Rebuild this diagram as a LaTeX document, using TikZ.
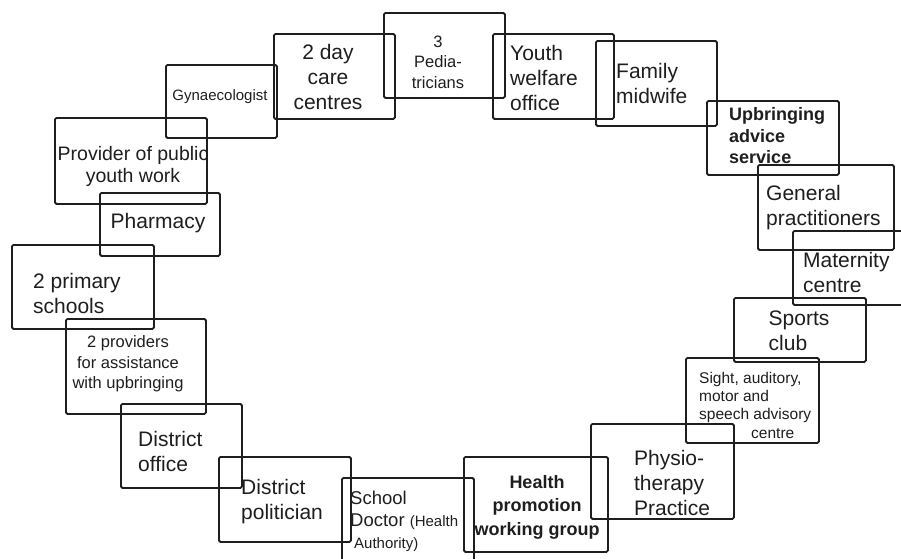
\documentclass[tikz,border=0pt]{standalone}
\usepackage{fontspec}
\setmainfont{Liberation Sans}
\definecolor{ink}{HTML}{1E1E1E}
\begin{document}
\begin{tikzpicture}[x=1pt,y=-1pt,
  box/.style={draw=ink, line width=1.8pt, rounded corners=1.5pt, inner sep=0pt, anchor=north west},
  lbl/.style={inner sep=0pt, text=ink, align=left},
  clbl/.style={inner sep=0pt, text=ink, align=center},
  big/.style={font=\fontsize{21}{25}\selectfont},
  midf/.style={font=\fontsize{19.5}{22}\selectfont},
  boldf/.style={font=\fontsize{18}{21.5}\selectfont\bfseries},
  boldg/.style={font=\fontsize{18}{23.5}\selectfont\bfseries},
  smallf/.style={font=\fontsize{16.5}{20.5}\selectfont},
  tinyf/.style={font=\fontsize{15.5}{18.3}\selectfont},
]
\useasboundingbox (0,0) rectangle (901,558);
\clip (0,0) rectangle (901,558);

% ring of partner boxes, clockwise from the gynaecologist
\node[box, minimum width=111pt, minimum height=73pt] (gyn) at (165,64) {};
\node[clbl, font=\fontsize{15}{18}\selectfont] (gynt) at (220,97) {Gynaecologist};

\node[box, minimum width=121pt, minimum height=85pt] (day) at (273,33) {};
\node[clbl, big] (dayt) at (328,77) {2 day\\care\\centres};

\node[box, minimum width=121pt, minimum height=85pt] (ped) at (383,12) {};
\node[clbl, smallf] (pedt) at (438,62) {3\\Pedia-\\tricians};

\node[box, minimum width=121pt, minimum height=85pt] (youth) at (492,33) {};
\node[lbl, big, anchor=west] (youtht) at (510,78) {Youth\\welfare\\office};

\node[box, minimum width=121pt, minimum height=85pt] (mid) at (595,40) {};
\node[lbl, big, anchor=west] (midt) at (616,83) {Family\\midwife};

\node[box, minimum width=132pt, minimum height=74pt] (upb) at (706,100) {};
\node[lbl, boldf, anchor=west] (upbt) at (729,136) {Upbringing\\advice\\service};

\node[box, minimum width=136pt, minimum height=85pt] (gp) at (757,164) {};
\node[lbl, big, anchor=west] (gpt) at (766,208) {General\\practitioners};

\node[box, minimum width=120pt, minimum height=74pt] (mat) at (792,230) {};
\node[lbl, big, anchor=west] (matt) at (803,272) {Maternity\\centre};

\node[box, minimum width=132pt, minimum height=64pt] (sport) at (733,297) {};
\node[lbl, big] (sportt) at (799,331) {Sports\\club};

\node[box, minimum width=133pt, minimum height=85pt] (sight) at (685,357) {};
\node[lbl, tinyf, anchor=west] (sightt) at (699,405) {Sight, auditory,\\motor and\\speech advisory\\\hspace*{52pt}centre};

\node[box, minimum width=143pt, minimum height=95pt] (physio) at (590,423) {};
\node[lbl, big] (physiot) at (672,483) {Physio-\\therapy\\Practice};

\node[box, minimum width=144pt, minimum height=95pt] (health) at (463,456) {};
\node[clbl, boldg] (healtht) at (537,507) {Health\\promotion\\working group};

\node[box, minimum width=132pt, minimum height=95pt] (school) at (341,477) {};
\node[lbl, font=\fontsize{18.5}{22}\selectfont, anchor=west] (schoolt) at (350,521)
  {School\\Doctor {\fontsize{15}{18}\selectfont(Health}\\\hspace*{4pt}{\fontsize{15}{18}\selectfont Authority)}};

\node[box, minimum width=132pt, minimum height=85pt] (pol) at (218,456) {};
\node[lbl, big, anchor=west] (polt) at (241,502) {District\\politician};

\node[box, minimum width=121pt, minimum height=84pt] (off) at (120,403) {};
\node[lbl, big, anchor=west] (offt) at (138,451) {District\\office};

\node[box, minimum width=140pt, minimum height=95pt] (prov) at (65,318) {};
\node[clbl, smallf] (provt) at (128,364) {2 providers\\for assistance\\with upbringing};

\node[box, minimum width=142pt, minimum height=84pt] (prim) at (11,244) {};
\node[lbl, big, anchor=west] (primt) at (33,293) {2 primary\\schools};

\node[box, minimum width=120pt, minimum height=63pt] (pharm) at (99,192) {};
\node[clbl, big] (pharmt) at (158,223) {Pharmacy};

\node[box, minimum width=152pt, minimum height=86pt] (pub) at (54,117) {};
\node[clbl, midf] (pubt) at (133,166) {Provider of public\\youth work};
\end{tikzpicture}
\end{document}
